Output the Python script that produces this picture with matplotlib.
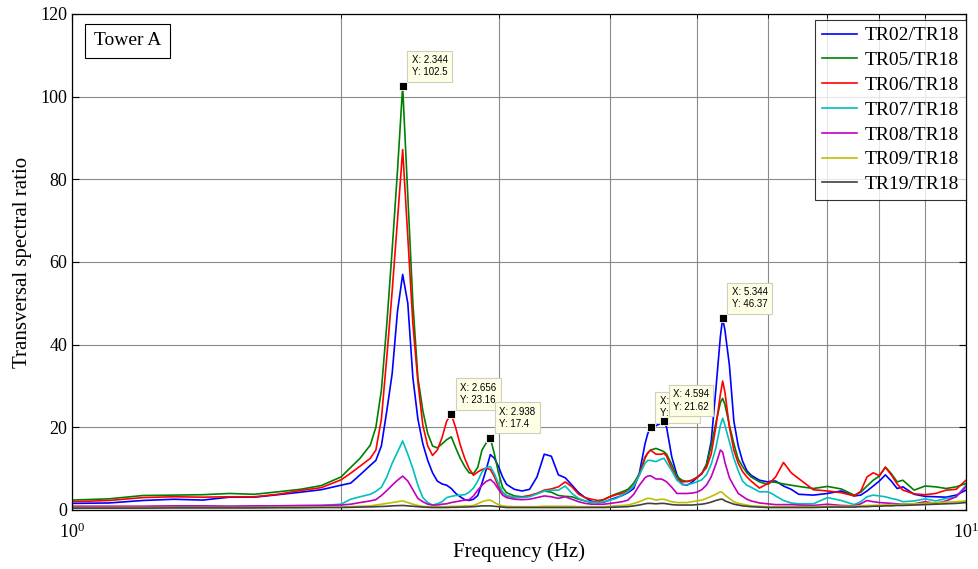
import matplotlib
matplotlib.use("Agg")
import matplotlib.pyplot as plt
from matplotlib.ticker import LogLocator, NullFormatter, LogFormatterMathtext

plt.rcParams['font.family'] = 'serif'
plt.rcParams['font.serif'] = ['Liberation Serif', 'DejaVu Serif']
plt.rcParams['mathtext.fontset'] = 'custom'
plt.rcParams['mathtext.rm'] = 'Liberation Serif'

# frequency samples (Hz)
freq = [1.0, 1.1, 1.2, 1.3, 1.4, 1.5, 1.6, 1.7, 1.8, 1.9,
        2.0, 2.05, 2.1, 2.15625, 2.1875, 2.21875, 2.25, 2.28125, 2.3125, 2.34375,
        2.375, 2.40625, 2.4375, 2.46875, 2.5, 2.53125, 2.5625, 2.59375, 2.625, 2.65625,
        2.6875, 2.71875, 2.75, 2.78125, 2.8125, 2.84375, 2.875, 2.90625, 2.9375, 2.96875,
        3.0, 3.03125, 3.0625, 3.125, 3.1875, 3.25, 3.3125, 3.375, 3.4375, 3.5,
        3.5625, 3.625, 3.6875, 3.75, 3.8125, 3.875, 3.9375, 4.0, 4.0625, 4.125,
        4.1875, 4.25, 4.3125, 4.375, 4.40625, 4.4375, 4.5, 4.5625, 4.59375, 4.625,
        4.6875, 4.75, 4.8125, 4.875, 4.9375, 5.0, 5.0625, 5.125, 5.1875, 5.25,
        5.3125, 5.34375, 5.375, 5.4375, 5.5, 5.5625, 5.625, 5.6875, 5.75, 5.875,
        6.0, 6.0625, 6.125, 6.25, 6.375, 6.5, 6.75, 7.0, 7.25, 7.5,
        7.625, 7.75, 7.875, 8.0, 8.125, 8.25, 8.375, 8.5, 8.75, 9.0,
        9.25, 9.5, 9.75, 10.0]

tr02 = [1.6, 1.7, 2.3, 2.6, 2.4, 3.1, 3.1, 3.7, 4.3, 4.9,
        6.0, 6.5, 8.5, 10.8, 12.0, 15.5, 24.0, 33.0, 48.0, 57.0,
        50.0, 32.0, 22.0, 16.0, 12.0, 9.0, 7.0, 6.3, 6.0, 5.2,
        4.0, 3.2, 2.5, 2.3, 2.6, 3.5, 6.5, 9.8, 13.4, 12.5,
        10.5, 8.0, 6.2, 5.0, 4.6, 5.0, 8.0, 13.5, 13.0, 8.5,
        7.8, 6.0, 4.2, 3.0, 2.1, 1.8, 1.9, 2.5, 3.0, 3.5,
        4.2, 5.2, 9.0, 16.0, 18.5, 20.0, 20.4, 21.0, 21.62, 20.0,
        12.8, 8.5, 6.2, 6.0, 6.7, 7.8, 8.7, 11.0, 16.5, 29.0,
        42.0, 46.37, 43.5, 35.0, 21.5, 15.5, 11.8, 9.5, 8.4, 7.2,
        6.8, 7.0, 7.0, 5.8, 5.0, 3.8, 3.6, 4.0, 4.6, 3.4,
        3.6, 4.6, 5.8, 7.0, 8.5, 7.0, 5.2, 5.6, 3.8, 3.3,
        3.2, 3.1, 3.6, 4.8]

tr05 = [2.4, 2.7, 3.5, 3.6, 3.7, 4.0, 3.8, 4.4, 5.0, 5.9,
        8.0, 10.3, 12.5, 15.7, 20.0, 29.0, 45.0, 63.0, 82.0, 102.5,
        76.0, 50.0, 32.0, 24.0, 18.5, 15.5, 15.0, 16.0, 17.0, 17.7,
        15.0, 12.5, 10.5, 9.0, 8.8, 10.3, 14.5, 16.2, 17.4, 13.5,
        9.0, 5.5, 4.2, 3.4, 3.2, 3.4, 4.0, 4.6, 4.3, 3.5,
        3.3, 3.2, 2.6, 2.2, 1.8, 1.9, 2.6, 3.3, 3.9, 4.4,
        5.0, 6.5, 8.8, 12.8, 13.8, 14.5, 14.9, 14.4, 14.1, 13.5,
        11.0, 8.1, 7.2, 6.9, 7.2, 7.9, 8.8, 11.0, 15.5, 21.0,
        26.0, 27.0, 25.5, 20.5, 16.0, 12.3, 10.5, 9.0, 8.0, 6.8,
        6.2, 6.8, 6.7, 6.3, 6.0, 5.7, 5.2, 5.7, 5.1, 3.6,
        4.3, 5.8, 7.2, 8.2, 10.4, 8.8, 6.8, 7.2, 4.8, 5.8,
        5.6, 5.2, 5.6, 6.4]

tr06 = [2.0, 2.3, 3.0, 3.2, 3.1, 3.2, 3.2, 3.8, 4.7, 5.4,
        7.3, 8.9, 10.6, 12.5, 14.5, 22.0, 37.0, 53.0, 70.0, 87.2,
        66.0, 45.0, 31.0, 20.5, 15.5, 13.2, 14.5, 17.5, 21.5, 23.16,
        19.8, 15.7, 12.5, 10.0, 8.4, 9.2, 9.8, 10.1, 9.8, 8.0,
        5.6, 4.2, 3.4, 3.0, 3.1, 3.5, 4.0, 4.8, 5.1, 5.6,
        6.8, 5.6, 3.8, 3.0, 2.6, 2.3, 2.5, 3.2, 3.7, 4.0,
        4.6, 5.8, 8.5, 12.5, 13.8, 14.5, 13.5, 13.5, 13.7, 13.0,
        10.0, 7.5, 6.8, 6.9, 7.2, 7.8, 8.9, 10.2, 13.5, 20.0,
        28.0, 31.2, 28.5, 20.0, 14.5, 11.3, 9.3, 8.0, 7.0, 5.3,
        6.4, 7.0, 8.0, 11.5, 9.0, 7.6, 4.9, 4.6, 4.2, 3.4,
        4.5, 8.0, 9.0, 8.3, 10.3, 8.5, 6.3, 4.8, 3.9, 3.7,
        4.0, 4.8, 5.0, 7.2]

tr07 = [0.8, 0.8, 0.8, 0.9, 0.9, 0.9, 0.9, 1.0, 1.0, 1.1,
        1.4, 2.6, 3.2, 3.8, 4.5, 5.5, 8.0, 11.3, 14.0, 16.7,
        13.5, 10.0, 6.0, 3.0, 1.8, 1.2, 1.5, 2.0, 3.0, 3.3,
        3.5, 3.6, 3.7, 4.3, 5.3, 7.0, 9.2, 10.3, 10.5, 8.8,
        6.3, 4.4, 3.5, 3.1, 3.0, 3.2, 3.9, 4.6, 4.8, 4.8,
        5.8, 4.0, 2.8, 2.2, 1.9, 1.8, 2.0, 2.4, 2.8, 3.6,
        4.4, 5.8, 8.5, 11.3, 12.0, 12.0, 11.7, 12.3, 12.5, 11.5,
        9.5, 7.2, 6.2, 6.1, 6.4, 6.8, 7.3, 8.5, 11.0, 15.0,
        20.5, 22.2, 20.5, 16.5, 12.5, 9.5, 7.0, 6.0, 5.5, 4.4,
        4.4, 4.0, 3.4, 2.3, 1.7, 1.5, 1.5, 3.0, 2.3, 1.3,
        2.0, 3.2, 3.6, 3.4, 3.2, 2.8, 2.5, 2.0, 2.2, 2.7,
        2.2, 2.8, 3.2, 6.0]

tr08 = [0.9, 0.9, 0.9, 1.0, 1.0, 0.9, 1.0, 1.0, 1.1, 1.1,
        1.2, 1.4, 1.8, 2.2, 2.5, 3.5, 4.7, 6.0, 7.2, 8.2,
        7.0, 4.9, 2.8, 2.0, 1.4, 1.2, 1.2, 1.4, 1.5, 1.8,
        2.0, 2.2, 2.4, 2.5, 3.4, 4.8, 6.0, 6.9, 7.4, 6.5,
        5.0, 3.6, 3.0, 2.6, 2.5, 2.6, 3.0, 3.4, 3.2, 2.8,
        3.2, 2.6, 2.0, 1.6, 1.4, 1.4, 1.4, 1.6, 1.8, 2.0,
        2.4, 3.8, 6.0, 7.8, 8.2, 8.3, 7.5, 7.5, 7.2, 6.8,
        5.5, 4.0, 4.0, 4.0, 4.1, 4.3, 4.9, 6.0, 8.0, 11.0,
        14.5, 14.0, 11.5, 7.8, 5.8, 4.0, 3.3, 2.6, 2.2, 1.7,
        1.5, 1.4, 1.3, 1.3, 1.3, 1.2, 1.1, 1.4, 1.1, 1.0,
        1.5, 2.3, 2.0, 1.8, 1.7, 1.6, 1.5, 1.4, 1.5, 2.0,
        1.6, 2.2, 3.2, 5.6]

tr09 = [0.6, 0.6, 0.6, 0.6, 0.6, 0.6, 0.6, 0.65, 0.65, 0.7,
        0.7, 0.8, 0.9, 1.0, 1.2, 1.4, 1.6, 1.8, 2.0, 2.2,
        1.8, 1.4, 1.1, 0.9, 0.8, 0.8, 0.8, 0.8, 0.8, 0.85,
        0.9, 0.9, 1.0, 1.0, 1.1, 1.5, 2.0, 2.3, 2.4, 1.8,
        1.3, 1.0, 0.9, 0.8, 0.8, 0.8, 0.8, 0.9, 0.9, 0.9,
        0.9, 0.9, 0.8, 0.8, 0.8, 0.8, 0.8, 0.9, 1.0, 1.1,
        1.2, 1.6, 2.0, 2.6, 2.8, 2.8, 2.4, 2.6, 2.6, 2.4,
        2.0, 1.8, 1.8, 1.8, 2.0, 2.2, 2.4, 2.8, 3.3, 3.8,
        4.4, 4.2, 3.6, 2.8, 2.0, 1.6, 1.4, 1.2, 1.0, 0.9,
        0.8, 0.8, 0.8, 0.8, 0.8, 0.8, 0.8, 0.9, 0.9, 0.9,
        1.0, 1.1, 1.1, 1.2, 1.2, 1.3, 1.3, 1.4, 1.5, 1.6,
        1.8, 1.9, 2.0, 2.2]

tr19 = [0.45, 0.45, 0.45, 0.5, 0.5, 0.5, 0.5, 0.55, 0.55, 0.6,
        0.6, 0.65, 0.7, 0.75, 0.8, 0.85, 0.9, 1.0, 1.05, 1.1,
        1.0, 0.9, 0.8, 0.7, 0.65, 0.6, 0.6, 0.6, 0.6, 0.65,
        0.65, 0.7, 0.7, 0.75, 0.8, 0.9, 1.0, 1.0, 1.0, 0.9,
        0.8, 0.7, 0.6, 0.6, 0.6, 0.6, 0.6, 0.6, 0.6, 0.6,
        0.6, 0.6, 0.6, 0.6, 0.6, 0.6, 0.6, 0.65, 0.7, 0.75,
        0.8, 1.0, 1.2, 1.5, 1.6, 1.6, 1.5, 1.6, 1.6, 1.5,
        1.3, 1.2, 1.2, 1.2, 1.2, 1.3, 1.4, 1.6, 1.9, 2.3,
        2.6, 2.6, 2.2, 1.8, 1.4, 1.2, 1.0, 0.9, 0.8, 0.7,
        0.6, 0.6, 0.6, 0.6, 0.6, 0.6, 0.6, 0.7, 0.7, 0.7,
        0.8, 0.8, 0.9, 0.9, 1.0, 1.0, 1.1, 1.1, 1.2, 1.3,
        1.4, 1.5, 1.6, 1.8]

series = [
    (tr02, (0, 0, 1), "TR02/TR18"),
    (tr05, (0, 0.5, 0), "TR05/TR18"),
    (tr06, (1, 0, 0), "TR06/TR18"),
    (tr07, (0, 0.75, 0.75), "TR07/TR18"),
    (tr08, (0.75, 0, 0.75), "TR08/TR18"),
    (tr09, (0.75, 0.75, 0), "TR09/TR18"),
    (tr19, (0.25, 0.25, 0.25), "TR19/TR18"),
]

# data tips: (frequency, series values)
tips = [(2.34375, tr05), (2.65625, tr06), (2.9375, tr05),
        (4.4375, tr02), (4.59375, tr02), (5.34375, tr02)]

fig = plt.figure(figsize=(9.79, 5.69), dpi=100)
ax = fig.add_axes([0.0735, 0.1037, 0.9132, 0.8717])

for vals, col, name in series:
    ax.plot(freq, vals, color=col, lw=1.2, label=name)

ax.set_xscale('log')
ax.set_xlim(1, 10)
ax.set_ylim(0, 120)
ax.set_yticks(range(0, 121, 20))
ax.xaxis.set_major_locator(LogLocator(base=10))
ax.xaxis.set_major_formatter(LogFormatterMathtext())
ax.xaxis.set_minor_locator(LogLocator(base=10, subs=range(2, 10)))
ax.xaxis.set_minor_formatter(NullFormatter())
ax.tick_params(which='both', direction='in', top=True, right=True, labelsize=13)
ax.tick_params(which='major', length=5)
ax.tick_params(which='minor', length=3)
ax.tick_params(axis='x', pad=9)
ax.grid(True, which='both', axis='x', color='#8a8a8a', lw=0.8)
ax.grid(True, which='major', axis='y', color='#8a8a8a', lw=0.8)
for s in ax.spines.values():
    s.set_linewidth(0.9)

ax.set_xlabel('Frequency (Hz)', fontsize=15, labelpad=0)
ax.set_ylabel('Transversal spectral ratio', fontsize=15, labelpad=6)

for i, (fx, vals) in enumerate(tips):
    fy = vals[freq.index(fx)]
    ax.annotate(f"X: {fx:.4g}\nY: {fy:.4g}", (fx, fy), xytext=(9, 9),
                textcoords='offset pixels', ha='left', va='bottom',
                fontsize=7, family='Liberation Sans', linespacing=1.3,
                bbox=dict(boxstyle='square,pad=0.45', fc='#ffffe6', ec='#cfcfc0', lw=0.8),
                zorder=5 + i)
    ax.plot(fx, fy, 's', color='k', mec='#fffff0', mew=0.6, ms=5.5, zorder=12)

ax.text(0.0626, 0.9456, 'Tower A', transform=ax.transAxes, fontsize=14,
        ha='center', va='center', zorder=20,
        bbox=dict(boxstyle='square,pad=0.45', fc='white', ec='black', lw=0.8))

leg = ax.legend(loc='upper right', bbox_to_anchor=(1.0, 0.988), borderaxespad=0,
                fontsize=14, frameon=True, fancybox=False, edgecolor='black',
                handlelength=1.8, handletextpad=0.4, labelspacing=0.37,
                borderpad=0.35)
leg.get_frame().set_linewidth(0.8)
leg.set_zorder(30)

fig.savefig('out.png', dpi=100)
